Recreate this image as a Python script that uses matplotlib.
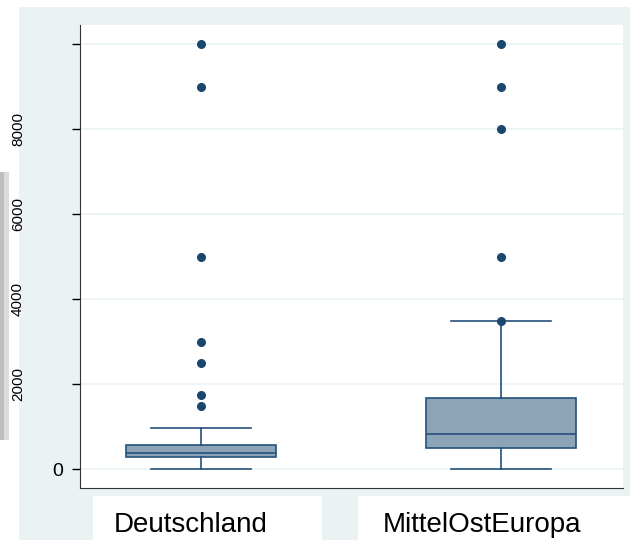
import matplotlib
matplotlib.use("Agg")
import matplotlib.pyplot as plt
from matplotlib.patches import Rectangle

# Box plot summaries
groups = ["Deutschland", "MittelOstEuropa"]
whisker_low = [0, 0]
q1 = [280, 495]
median = [375, 840]
q3 = [580, 1680]
whisker_high = [980, 3500]
outliers = [
    [1500, 1750, 2500, 3000, 5000, 9000, 10000],
    [3500, 5000, 8000, 9000, 10000],
]
y_ticks = [0, 2000, 4000, 6000, 8000, 10000]
side_labels = ["2000", "4000", "6000", "8000"]

navy = "#1A476F"
edge = "#24507A"
fill = "#8DA4B7"
bg = "#EAF2F3"

plt.rcParams["font.family"] = ["Liberation Sans", "DejaVu Sans"]

fig = plt.figure(figsize=(6.3, 5.4), dpi=100)
W, H = 630.0, 540.0


def fig_rect(x0, y0, x1, y1, color):
    # rectangle in pixel coords measured from the top left
    fig.patches.append(Rectangle((x0 / W, 1 - y1 / H), (x1 - x0) / W, (y1 - y0) / H,
                                 transform=fig.transFigure, facecolor=color,
                                 edgecolor="none", zorder=-10))


# Stata-like outer background
fig_rect(19, 7, 630, 540, bg)
# light grey strip at far left
fig_rect(0, 172, 4, 440, "#BDBDBD")
fig_rect(4, 172, 9, 440, "#DCDCDC")
# white boxes behind category labels
fig_rect(93, 496, 322, 540, "white")
fig_rect(358, 496, 630, 540, "white")

ax = fig.add_axes([80 / W, (540 - 488) / H, (623 - 80) / W, (488 - 25) / H])
ax.set_facecolor("white")

stats = []
for i, g in enumerate(groups):
    stats.append({
        "label": g,
        "whislo": whisker_low[i],
        "q1": q1[i],
        "med": median[i],
        "q3": q3[i],
        "whishi": whisker_high[i],
        "fliers": outliers[i],
    })

ax.bxp(stats, positions=[1, 2], widths=0.5, patch_artist=True,
       showfliers=True, capwidths=0.333,
       boxprops=dict(facecolor=fill, edgecolor=edge, linewidth=1.2),
       medianprops=dict(color=edge, linewidth=1.2),
       whiskerprops=dict(color=edge, linewidth=1.2),
       capprops=dict(color=edge, linewidth=1.2),
       flierprops=dict(marker="o", markerfacecolor=navy, markeredgecolor=navy,
                       markersize=5.5))

ax.set_xlim(0.5985, 2.405)
ax.set_ylim(-440, 10454)
ax.set_yticks(y_ticks)
ax.set_yticklabels(["0", "", "", "", "", ""], fontsize=14)
ax.tick_params(axis="y", length=6, width=1, color="black", pad=6)
ax.set_xticks([])
ax.grid(axis="y", color=bg, linewidth=1.2)
ax.set_axisbelow(True)
for s in ["top", "right"]:
    ax.spines[s].set_visible(False)
ax.spines["left"].set_color("#333333")
ax.spines["bottom"].set_color("#333333")

# rotated side labels (partly hidden in the original)
for lab, val in zip(side_labels, y_ticks[1:5]):
    ypix = ax.transData.transform((0, val))[1]
    fig.text(25 / W, ypix / H, lab, rotation=90, ha="right", va="center",
             fontsize=11, color="black")

# category labels under the plot
fig.text(191 / W, (540 - 525) / H, groups[0], ha="center", va="center",
         fontsize=20)
fig.text(482 / W, (540 - 525) / H, groups[1], ha="center", va="center",
         fontsize=20)

fig.savefig("out.png", dpi=100, facecolor="white")
